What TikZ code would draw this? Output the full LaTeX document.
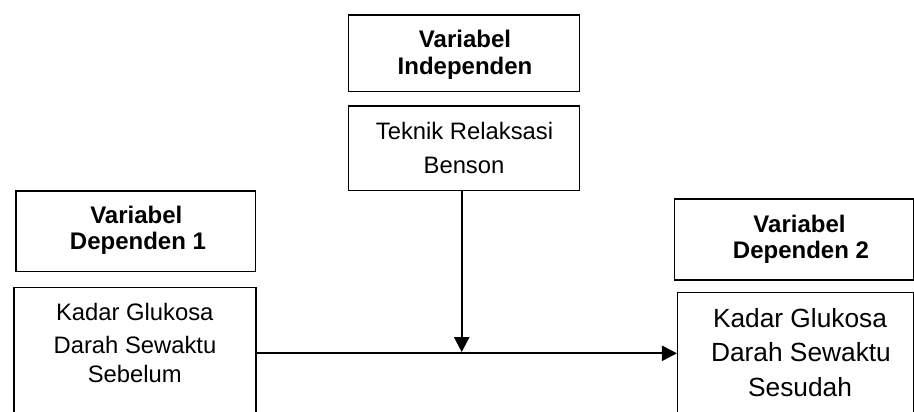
\documentclass[tikz,border=0pt]{standalone}
\usepackage{fontspec}
\setmainfont{Liberation Sans}
\usetikzlibrary{arrows.meta}
\begin{document}
\begin{tikzpicture}[x=1pt,y=1pt,
  box/.style={draw=black,line width=1.5pt,rectangle,inner sep=0pt,minimum width=#1},
  hd/.style={font=\fontsize{24}{28}\selectfont\bfseries,anchor=base,inner sep=0pt},
  tx/.style={font=\fontsize{23.8}{28}\selectfont,anchor=base,inner sep=0pt},
  txl/.style={font=\fontsize{26.3}{30}\selectfont,anchor=base,inner sep=0pt},
  arr/.style={line width=2.3pt,-{Triangle[width=15pt,length=15pt]}}]
\useasboundingbox (0,0) rectangle (914,412);
% boxes
\node[box=231,minimum height=76.7] (indep) at (463.8,358.65) {};
\node[box=231,minimum height=84.7] (teknik) at (463.8,263.65) {};
\node[box=239.7,minimum height=80.7] (dep1) at (135.85,180.65) {};
\node[box=242,minimum height=144.7] (kadar1) at (135,52.35) {};
\node[box=239,minimum height=81] (dep2) at (793.8,172.5) {};
\node[box=235.6,minimum height=139.7] (kadar2) at (795.5,49.85) {};
% texts
\node[hd] (t1) at (465,364.3) {Variabel};
\node[hd] (t2) at (465,337) {Independen};
\node[tx] (t3) at (464.5,272.7) {Teknik Relaksasi};
\node[tx] (t4) at (464,238.7) {Benson};
\node[hd] (t5) at (136.3,188.7) {Variabel};
\node[hd] (t6) at (138,162) {Dependen 1};
\node[tx] (t7) at (134.8,91.3) {Kadar Glukosa};
\node[tx] (t8) at (135,58.7) {Darah Sewaktu};
\node[tx] (t9) at (134.8,29.3) {Sebelum};
\node[hd] (t10) at (799.5,179.7) {Variabel};
\node[hd] (t11) at (801,153.7) {Dependen 2};
\node[txl] (t12) at (800,84) {Kadar Glukosa};
\node[txl] (t13) at (801,50.3) {Darah Sewaktu};
\node[txl] (t14) at (800,15.3) {Sesudah};
% connectors
\coordinate (meet) at (461.7,58.7);
\draw[arr] (kadar1.east |- meet) -- (kadar2.west |- meet);
\draw[arr,shorten >=1.2pt] (teknik.south -| meet) -- (meet);
\end{tikzpicture}
\end{document}
